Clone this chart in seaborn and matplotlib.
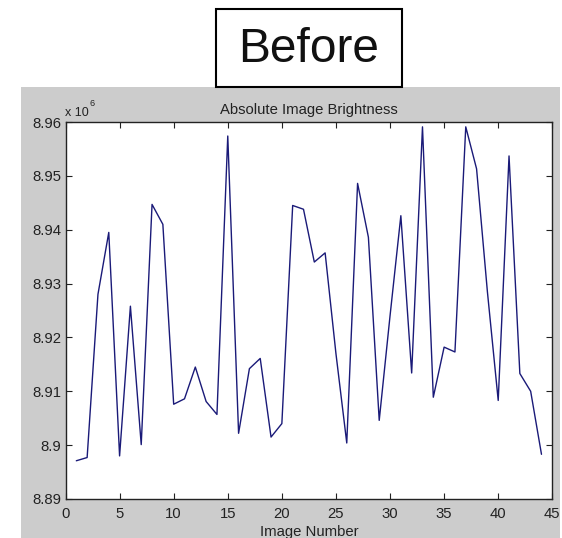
import matplotlib
matplotlib.use("Agg")
import matplotlib.pyplot as plt
from matplotlib.patches import Rectangle
from matplotlib.ticker import FuncFormatter
import seaborn as sns
import pandas as pd

# ---- data (brightness in units of 10^6) ----
image_number = list(range(1, 45))
brightness = [
    8.8971, 8.8977, 8.9280, 8.9395, 8.8980, 8.9258, 8.9001, 8.9447, 8.9410, 8.9076,
    8.9086, 8.9145, 8.9081, 8.9057, 8.9574, 8.9022, 8.9142, 8.9161, 8.9015, 8.9040,
    8.9445, 8.9438, 8.9340, 8.9357, 8.9170, 8.9004, 8.9486, 8.9386, 8.9046, 8.9240,
    8.9426, 8.9134, 8.9591, 8.9089, 8.9182, 8.9173, 8.9591, 8.9513, 8.9285, 8.9083,
    8.9537, 8.9133, 8.9100, 8.8983,
]
x_ticks = [0, 5, 10, 15, 20, 25, 30, 35, 40, 45]
y_ticks = [8.89, 8.90, 8.91, 8.92, 8.93, 8.94, 8.95, 8.96]
title_text = "Absolute Image Brightness"
xlabel_text = "Image Number"
header_text = "Before"

df = pd.DataFrame({"Image Number": image_number, "Brightness": brightness})

sns.set_theme(style="white")
plt.rcParams["font.family"] = ["Liberation Sans", "DejaVu Sans"]

W, H = 562, 538
fig = plt.figure(figsize=(W / 100, H / 100), dpi=100)
fig.patch.set_facecolor("white")

# gray MATLAB-like figure background
fig.patches.append(Rectangle((21 / W, 0), (560 - 21) / W, 1 - 87 / H,
                             transform=fig.transFigure, facecolor="#cccccc",
                             edgecolor="none", zorder=-5))
# "Before" box
fig.patches.append(Rectangle((216 / W, 1 - 87 / H), (402 - 216) / W, (87 - 9) / H,
                             transform=fig.transFigure, facecolor="white",
                             edgecolor="black", linewidth=1.5, zorder=-4))
fig.text(309 / W, 1 - 50 / H, header_text, ha="center", va="center",
         fontsize=34.5, color="#111111")

left, right, top, bottom = 65.5, 552.3, 122, 499
ax = fig.add_axes([left / W, 1 - bottom / H, (right - left) / W, (bottom - top) / H])
ax.set_zorder(5)
ax.set_facecolor("white")

sns.lineplot(data=df, x="Image Number", y="Brightness", ax=ax,
             color="#1a1a78", linewidth=1.0)

ax.set_xlim(0, 45)
ax.set_ylim(8.89, 8.96)
ax.set_xticks(x_ticks)
ax.set_yticks(y_ticks)
ax.yaxis.set_major_formatter(FuncFormatter(lambda v, p: f"{v:.2f}".rstrip("0")))

fs = 10.7
ax.tick_params(axis="both", direction="in", length=4, width=0.8, color="#222222",
               labelsize=fs, labelcolor="#222222", top=True, right=True,
               bottom=True, left=True)
ax.tick_params(axis="x", pad=5.5)
ax.tick_params(axis="y", pad=3)
for s in ax.spines.values():
    s.set_visible(True)
    s.set_color("#222222")
    s.set_linewidth(1.0)

ax.set_title(title_text, fontsize=fs, color="#222222", pad=5.8)
ax.set_xlabel(xlabel_text, fontsize=fs, color="#222222", labelpad=3.2)
ax.set_ylabel("")

# exponent label
fig.text(65 / W, 1 - 116 / H, "x 10", fontsize=9, color="#222222",
         ha="left", va="baseline", zorder=10)
fig.text(89.5 / W, 1 - 106 / H, "6", fontsize=6.5, color="#222222",
         ha="left", va="baseline", zorder=10)

fig.savefig("out.png", dpi=100)
